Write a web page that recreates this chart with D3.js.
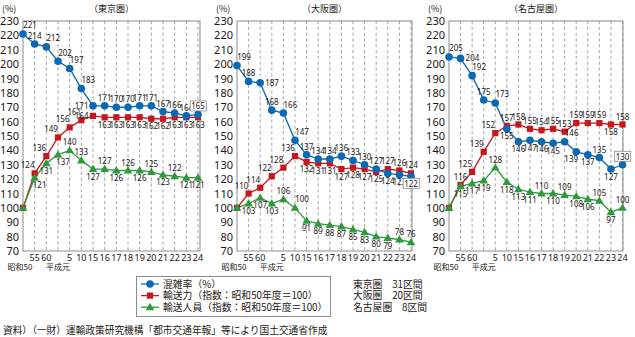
<!DOCTYPE html>
<html><head><meta charset="utf-8">
<script src="https://cdn.jsdelivr.net/npm/d3@7"></script>
<style>
body{margin:0;background:#fff;}
text{font-family:"Noto Sans CJK JP","Noto Sans",sans-serif;fill:#231815;}
</style></head>
<body>
<svg id="c" width="635" height="337"></svg>
<script>
// ---- data ----
const cats = ["昭和50","55","60","平成元","5","10","15","16","17","18","19","20","21","22","23","24"];
const yTickValues = [70,80,90,100,110,120,130,140,150,160,170,180,190,200,210,220,230];
const regionTitles = ["（東京圏）","（大阪圏）","（名古屋圏）"];
const seriesNames = ["混雑率（%）","輸送力（指数：昭和50年度＝100）","輸送人員（指数：昭和50年度＝100）"];
const sectionNotes = ["東京圏　31区間","大阪圏　20区間","名古屋圏　8区間"];
const sourceNote = "資料）（一財）運輸政策研究機構「都市交通年報」等により国土交通省作成";

const tokyoCongestion = [221,214,212,202,197,183,171,171,170,170,171,171,167,166,164,165];
const tokyoCapacity   = [100,124,136,149,156,161,164,163,163,163,163,162,162,163,163,163];
const tokyoPassengers = [100,121,131,137,140,133,127,127,126,126,126,125,123,122,121,121];
const osakaCongestion = [199,188,187,168,166,147,137,134,134,136,133,130,127,124,123,122];
const osakaCapacity   = [100,110,114,122,128,136,132,131,131,127,128,127,125,127,126,124];
const osakaPassengers = [100,103,107,103,106,100,91,89,88,87,85,83,80,79,78,76];
const nagoyaCongestion= [205,204,192,175,173,155,146,147,146,145,146,139,137,135,127,130];
const nagoyaCapacity  = [100,116,125,139,152,157,158,155,154,155,153,159,159,159,158,158];
const nagoyaPassengers= [100,115,117,119,128,118,113,111,110,110,109,108,106,105,97,100];

// label placement codes (a=above, b=below, ar/al=above right/left, r=right, l=left, br/bl=below right/left)
const tokyoCongPos = ["ar","a","ar","ar","ar","ar","l","a","a","a","a","a","a","a","a","a"];
const tokyoCapPos  = [null,"al","al","al","al","al","l","b","b","b","b","b","b","b","b","b"];
const tokyoPasPos  = [null,"br","b","br","a","a","b","a","b","a","b","a","b","a","b","b"];
const osakaCongPos = ["ar","a","r","a","ar","ar","a","a","a","a","a","a","a","b","b","b"];
const osakaCapPos  = [null,"al","al","al","al","al","b","b","b","b","b","b","b","a","a","a"];
const osakaPasPos  = [null,"b","b","b","a","ar","b","b","b","b","b","b","b","b","a","a"];
const nagoyaCongPos= ["ar","r","ar","a","ar","b","b","b","b","b","ar","bl","b","a","b","a"];
const nagoyaCapPos = [null,"a","al","al","al","a","a","a","a","a","a","a","a","a","b","a"];
const nagoyaPasPos = [null,"b","b","b","a","b","b","b","a","b","a","b","b","a","b","a"];

// ---- drawing ----
const svg = d3.select("#c");
const colors = {cong:"#0b68b3", cap:"#c8161d", pas:"#2e9a3d"};
const numFont = "'Liberation Sans Narrow','Arial Narrow','Noto Sans',sans-serif";
const panels = [
  {left:23, last:198, right:200, cong:tokyoCongestion, cap:tokyoCapacity, pas:tokyoPassengers,
   cp:tokyoCongPos, kp:tokyoCapPos, pp:tokyoPasPos},
  {left:237, last:411, right:412, cong:osakaCongestion, cap:osakaCapacity, pas:osakaPassengers,
   cp:osakaCongPos, kp:osakaCapPos, pp:osakaPasPos},
  {left:449, last:622.5, right:623, cong:nagoyaCongestion, cap:nagoyaCapacity, pas:nagoyaPassengers,
   cp:nagoyaCongPos, kp:nagoyaCapPos, pp:nagoyaPasPos}
];
const plotTop = 21, plotBottom = 251;
const y = d3.scaleLinear().domain([70,230]).range([plotBottom, plotTop]);

const off = {
  a:[0,-5,"middle"], b:[0,10.5,"middle"], ar:[7,-5.5,"middle"], al:[-7,-5,"middle"],
  r:[5,3,"start"], l:[-4.5,3,"end"], br:[5,10.5,"middle"], bl:[-5,10.5,"middle"]
};

function marker(g, type, cx, cy, color){
  if(type==="cong") g.append("circle").attr("cx",cx).attr("cy",cy).attr("r",3.8).attr("fill",color);
  else if(type==="cap") g.append("rect").attr("x",cx-3.1).attr("y",cy-3.1).attr("width",6.2).attr("height",6.2).attr("fill",color);
  else g.append("path").attr("d",d3.symbol(d3.symbolTriangle,32)()).attr("transform",`translate(${cx},${cy+0.5})`).attr("fill",color);
}

panels.forEach((p, pi) => {
  const x = d3.scalePoint().domain(cats).range([p.left, p.last]);
  const g = svg.append("g");
  cats.slice(1).forEach(c => {
    g.append("line").attr("x1",x(c)).attr("x2",x(c)).attr("y1",plotTop).attr("y2",plotBottom)
      .attr("stroke","#8f8f8f").attr("stroke-width",0.8).attr("stroke-dasharray","3.2,2.6");
  });
  g.append("rect").attr("x",p.left).attr("y",plotTop).attr("width",p.right-p.left).attr("height",plotBottom-plotTop)
    .attr("fill","none").attr("stroke","#8c8c8c").attr("stroke-width",1);
  const ya = d3.axisLeft(y).tickValues(yTickValues).tickSize(0).tickPadding(4);
  const yg = g.append("g").attr("transform",`translate(${p.left},0)`).call(ya);
  yg.select(".domain").remove();
  yg.selectAll("text").attr("font-size","11px").style("font-family","'Noto Sans',sans-serif").attr("fill","#333");
  cats.forEach((c,i) => {
    const two = (c==="昭和50"||c==="平成元");
    g.append("text").attr("x", x(c) + (c==="昭和50"?-3:0)).attr("y", two?270:261)
      .attr("text-anchor","middle").attr("font-size", two?"8px":"9px")
      .style("font-family", two?null:numFont).text(c);
  });
  g.append("text").attr("x",p.left-21).attr("y",12).attr("font-size","9px").text("(%)");
  g.append("text").attr("x",(p.left+p.right)/2).attr("y",12).attr("text-anchor","middle").attr("font-size","9px").text(regionTitles[pi]);

  const series = [["cap",p.cap,p.kp],["pas",p.pas,p.pp],["cong",p.cong,p.cp]];
  series.forEach(([k,vals]) => {
    const line = d3.line().x((d,i)=>x(cats[i])).y(d=>y(d));
    g.append("path").datum(vals).attr("d",line).attr("fill","none").attr("stroke",colors[k]).attr("stroke-width",1.3);
  });
  series.forEach(([k,vals]) => {
    vals.forEach((v,i)=>marker(g,k,x(cats[i]),y(v),colors[k]));
  });
  series.forEach(([k,vals,pos]) => {
    vals.forEach((v,i)=>{
      const code = pos[i]; if(!code) return;
      const o = off[code];
      const t = g.append("text").attr("x",x(cats[i])+o[0]).attr("y",y(v)+o[1]).attr("text-anchor",o[2])
        .attr("font-size","8px").attr("fill","#333").style("font-family",numFont).text(v);
      if(k==="cong" && i===vals.length-1){
        const bb = t.node().getBBox();
        g.append("rect").attr("x",bb.x-1).attr("y",bb.y+0.5).attr("width",bb.width+2).attr("height",bb.height-1)
          .attr("fill","#fff").attr("stroke","#777").attr("stroke-width",0.7);
        t.raise();
      }
    });
  });
});

const lg = svg.append("g");
lg.append("rect").attr("x",136.5).attr("y",276.5).attr("width",194).attr("height",40)
  .attr("fill","#fff").attr("stroke","#8c8c8c").attr("stroke-width",1);
const keys = ["cong","cap","pas"];
keys.forEach((k,i)=>{
  const yy = 284 + i*11.6;
  lg.append("line").attr("x1",141).attr("x2",159).attr("y1",yy).attr("y2",yy).attr("stroke",colors[k]).attr("stroke-width",1.3);
  marker(lg,k,150,yy,colors[k]);
  lg.append("text").attr("x",163).attr("y",yy+3.5).attr("font-size","9.8px").text(seriesNames[i]);
  lg.append("text").attr("x",353).attr("y",yy+3.5).attr("font-size","9.8px").text(sectionNotes[i]);
});
svg.append("text").attr("x",3).attr("y",334).attr("font-size","9.7px").text(sourceNote);
</script>
</body></html>
